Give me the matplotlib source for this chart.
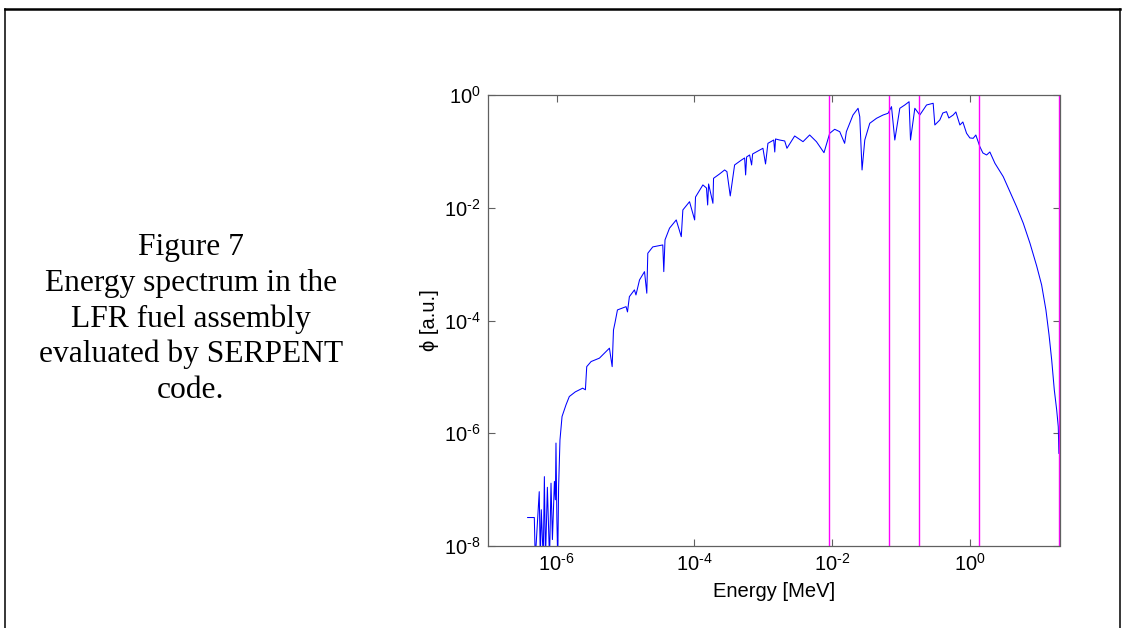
import matplotlib
matplotlib.use("Agg")
import matplotlib.pyplot as plt
from matplotlib.ticker import FixedLocator, FuncFormatter, NullLocator
from matplotlib.lines import Line2D
import numpy as np

# neutron flux spectrum (energy in MeV, flux in a.u.)
energy = [
    3.8e-7, 4.75e-7, 4.9e-7, 5.3e-7, 5.6e-7, 5.8e-7, 6.0e-7, 6.4e-7, 6.65e-7, 6.9e-7,
    7.35e-7, 7.6e-7, 7.9e-7, 8.3e-7, 8.7e-7, 9.3e-7, 9.6e-7, 9.8e-7, 1.01e-6, 1.04e-6,
    1.07e-6, 1.12e-6, 1.20e-6, 1.37e-6, 1.53e-6, 1.87e-6, 2.39e-6, 2.62e-6, 2.74e-6, 3.17e-6,
    4.19e-6, 5.85e-6, 6.41e-6, 6.70e-6, 7.04e-6,
    7.65e-6, 1.02e-5, 1.07e-5, 1.14e-5, 1.35e-5, 1.42e-5, 1.60e-5, 1.89e-5, 2.04e-5, 2.11e-5,
    2.49e-5, 3.48e-5, 3.60e-5, 3.75e-5, 4.36e-5, 5.46e-5, 6.46e-5, 6.81e-5, 8.51e-5,
    1.01e-4, 1.04e-4, 1.33e-4, 1.50e-4, 1.56e-4, 1.61e-4, 1.86e-4, 1.90e-4, 2.32e-4, 2.75e-4,
    2.97e-4, 3.32e-4, 3.84e-4, 4.85e-4, 5.37e-4, 5.55e-4, 5.74e-4, 6.34e-4, 6.78e-4, 7.01e-4,
    9.9e-4, 1.08e-3, 1.17e-3, 1.42e-3, 1.47e-3, 1.51e-3, 1.73e-3, 2.05e-3, 2.21e-3, 2.86e-3,
    3.78e-3, 4.72e-3, 5.92e-3, 7.62e-3, 9.23e-3,
    1.09e-2, 1.29e-2, 1.52e-2, 1.61e-2, 2.01e-2, 2.38e-2, 2.52e-2, 2.72e-2, 2.98e-2, 3.52e-2,
    4.41e-2, 5.49e-2, 6.49e-2, 7.28e-2, 8.13e-2, 9.61e-2,
    0.1135, 0.131, 0.1374, 0.1588, 0.1875, 0.235, 0.293, 0.31, 0.366, 0.405,
    0.458, 0.495, 0.572, 0.626, 0.716, 0.791, 0.895,
    1.0, 1.117, 1.22, 1.397, 1.545, 1.749, 1.95, 2.31, 3.05, 3.81,
    4.77, 5.96, 7.45, 9.32, 11.0, 12.7, 14.1, 15.4, 16.8, 18.2, 19.2, 19.6,
]
flux = [
    3.2e-8, 3.2e-8, 5.7e-9, 2.9e-8, 9.2e-8, 5.7e-9, 4.4e-8, 5.7e-9, 1.7e-7, 5.7e-9,
    1.1e-7, 2.9e-8, 5.7e-9, 1.3e-7, 1.3e-8, 1.4e-7, 6.6e-8, 6.7e-7, 2.9e-8, 5.7e-9,
    1.1e-7, 7.6e-7, 1.98e-6, 3.19e-6, 4.48e-6, 5.42e-6, 6.3e-6, 5.9e-6, 1.52e-5, 1.87e-5,
    2.15e-5, 3.23e-5, 1.52e-5, 6.8e-5, 9.06e-5,
    1.54e-4, 1.76e-4, 1.42e-4, 2.65e-4, 3.49e-4, 2.84e-4, 5.25e-4, 7.36e-4, 3.05e-4, 1.56e-3,
    2.02e-3, 2.19e-3, 7.36e-4, 2.69e-3, 4.34e-3, 6.08e-3, 3.07e-3, 9.14e-3, 1.28e-2,
    6.08e-3, 1.55e-2, 2.54e-2, 2.24e-2, 1.12e-2, 2.64e-2, 1.20e-2, 3.33e-2, 3.97e-2, 4.68e-2,
    4.37e-2, 1.62e-2, 5.74e-2, 7.05e-2, 7.64e-2, 3.82e-2, 7.96e-2, 8.63e-2, 5.74e-2, 8.99e-2,
    0.1135, 5.98e-2, 0.139, 0.159, 9.75e-2, 0.166, 0.159, 0.153, 0.1135, 0.1875,
    0.1486, 0.1954, 0.1486, 9.48e-2, 0.2094,
    0.2465, 0.2235, 0.139, 0.2235, 0.4416, 0.581, 0.412, 4.68e-2, 0.159, 0.315,
    0.386, 0.4416, 0.474, 0.621, 0.159, 0.581,
    0.665, 0.760, 0.159, 0.581, 0.4416, 0.665, 0.713, 0.294, 0.3605, 0.48,
    0.506, 0.391, 0.4416, 0.5, 0.294, 0.332, 0.2094,
    0.173, 0.1706, 0.195, 0.121, 9.37e-2, 8.63e-2, 9.75e-2, 6.15e-2, 3.56e-2, 1.93e-2,
    1.04e-2, 5.31e-3, 2.35e-3, 9.29e-4, 4.28e-4, 1.54e-4, 5.55e-5, 2.0e-5, 5.9e-6, 2.6e-6, 1.3e-6, 4.4e-7,
]

# energy group boundaries (MeV), drawn as magenta lines
group_edges = [9.1188e-3, 6.7379e-2, 1.8316e-1, 1.3534, 19.64]

x_ticks = [1e-6, 1e-4, 1e-2, 1e0]
y_ticks = [1e-8, 1e-6, 1e-4, 1e-2, 1e0]

caption_lines = ["Figure 7", "Energy spectrum in the", "LFR fuel assembly",
                 "evaluated by SERPENT", "code."]

plt.rcParams['font.family'] = ['Liberation Sans', 'DejaVu Sans']
plt.rcParams['mathtext.fontset'] = 'custom'
plt.rcParams['mathtext.rm'] = 'Liberation Sans'
plt.rcParams['mathtext.it'] = 'Liberation Sans:italic'
plt.rcParams['mathtext.bf'] = 'Liberation Sans:bold'

W, H = 1130, 628
fig = plt.figure(figsize=(W / 100, H / 100), dpi=100)

# page frame (top, left, right edges)
fig.add_artist(Line2D([5 / W, 1120 / W], [1 - 9 / H, 1 - 9 / H], color='black', lw=1.8))
fig.add_artist(Line2D([5 / W, 5 / W], [0, 1 - 9 / H], color='black', lw=1.1))
fig.add_artist(Line2D([1120 / W, 1120 / W], [0, 1 - 9 / H], color='black', lw=1.1))

# caption on the left
baselines = [255, 290.75, 326.5, 362.25, 398]
for line, yb in zip(caption_lines, baselines):
    fig.text(191 / W, 1 - yb / H, line, ha='center', va='baseline',
             fontsize=22.7, family='Liberation Serif')

ax = fig.add_axes([487.7 / W, 1 - 546 / H, (1059.5 - 487.7) / W, (546 - 95) / H])
ax.plot(energy, flux, color='#0000ff', lw=0.75)
for e in group_edges:
    ax.axvline(e, color='#ff00ff', lw=1.0)

ax.set_xscale('log')
ax.set_yscale('log')
ax.set_xlim(1e-7, 20)
ax.set_ylim(1e-8, 1)


def dec_label(v, p):
    n = int(round(np.log10(v)))
    if n < 0:
        return r'$\mathregular{10^{\text{-}%d}}$' % (-n)
    return r'$\mathregular{10^{%d}}$' % n


fmt = FuncFormatter(dec_label)
ax.xaxis.set_major_locator(FixedLocator(x_ticks))
ax.yaxis.set_major_locator(FixedLocator(y_ticks))
ax.xaxis.set_minor_locator(NullLocator())
ax.yaxis.set_minor_locator(NullLocator())
ax.xaxis.set_major_formatter(fmt)
ax.yaxis.set_major_formatter(fmt)

for s in ax.spines.values():
    s.set_color('#606060')
    s.set_linewidth(0.9)
ax.tick_params(which='both', direction='in', top=True, right=True, length=5,
               width=0.8, color='#606060', labelsize=14.5, pad=5)

ax.set_xlabel('Energy [MeV]', fontsize=14.5)
ax.set_ylabel('ϕ [a.u.]', fontsize=14.5)
ax.xaxis.set_label_coords(0.5, -0.08)
ax.yaxis.set_label_coords(-0.085, 0.5)

fig.savefig('out.png', dpi=100)
